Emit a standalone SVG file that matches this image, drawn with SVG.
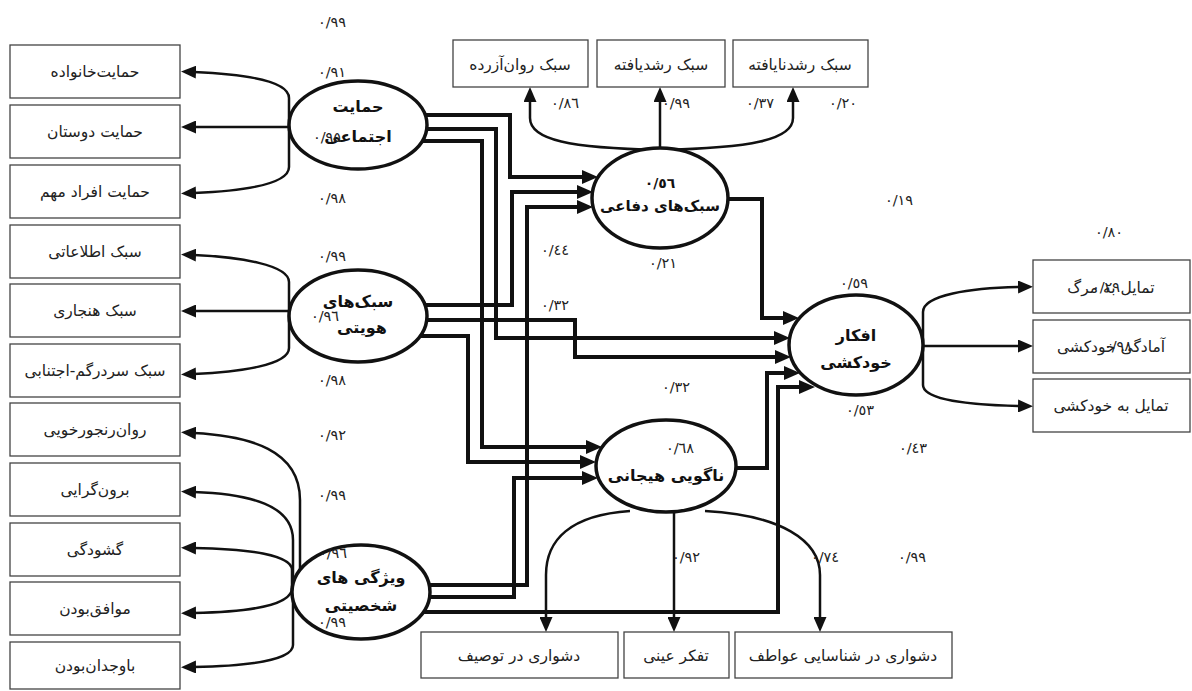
<svg xmlns="http://www.w3.org/2000/svg" width="1192" height="691" viewBox="0 0 1192 691">
<style>
.box{fill:#fff;stroke:#444;stroke-width:1.3}
.ell{fill:#fff;stroke:#111;stroke-width:3.5}
.thick{fill:none;stroke:#111;stroke-width:4;marker-end:url(#th)}
.thin{fill:none;stroke:#111;stroke-width:2.5}
.arr{fill:none;stroke:#111;stroke-width:2.5;marker-end:url(#ah)}
.t{font-family:"DejaVu Sans",sans-serif;font-size:15.5px;fill:#222;text-anchor:middle}
.ti{font-family:"DejaVu Sans",sans-serif;font-size:16px;font-weight:bold;fill:#111;text-anchor:middle}
.n{font-family:"DejaVu Sans",sans-serif;font-size:14.5px;fill:#222;text-anchor:middle}
</style>
<defs>
<marker id="th" markerUnits="userSpaceOnUse" markerWidth="16" markerHeight="14" refX="2" refY="7" orient="auto"><path d="M0,0 L16,7 L0,14 z" fill="#111"/></marker>
<marker id="ah" markerUnits="userSpaceOnUse" markerWidth="15" markerHeight="13" refX="2" refY="6.5" orient="auto"><path d="M0,0 L15,6.5 L0,13 z" fill="#111"/></marker>
</defs>
<rect width="1192" height="691" fill="#fff"/>

<g id="connectors">
<path class="arr" d="M289 130 L289 98 C289 80 240 74 194 72"/>
<path class="arr" d="M289 127 L194 127"/>
<path class="arr" d="M289 130 L289 167 C289 185 240 191 194 193"/>
<path class="arr" d="M289 320 L289 282 C289 265 240 257 194 255"/>
<path class="arr" d="M289 311 L194 311"/>
<path class="arr" d="M289 320 L289 348 C289 365 240 372 194 374"/>
<path class="arr" d="M300 575 L300 500 C300 450 250 436 194 433"/>
<path class="arr" d="M293 580 L293 540 C293 505 250 494 194 492"/>
<path class="arr" d="M292 590 L292 570 C292 555 250 549 194 548"/>
<path class="arr" d="M292 588 C292 605 250 612 194 613"/>
<path class="arr" d="M293 600 L293 645 C293 660 250 666 194 667"/>
<path class="arr" d="M660 150 C570 148 530 140 530 118 L530 100"/>
<path class="arr" d="M660 150 L660 100"/>
<path class="arr" d="M660 150 C750 148 793 140 793 118 L793 100"/>
<path class="arr" d="M923 345 L923 312 C923 295 970 288 1020 287"/>
<path class="arr" d="M923 346 L1020 346"/>
<path class="arr" d="M923 345 L923 385 C923 400 970 405 1020 406"/>
<path class="arr" d="M630 511 C570 515 546 540 546 575 L546 619"/>
<path class="arr" d="M674 512 L674 619"/>
<path class="arr" d="M705 511 C780 515 820 540 820 575 L820 619"/>
<path class="thick" d="M400 115 L510 115 L510 177 L584 177"/>
<path class="thick" d="M400 129 L496 129 L496 338 L776 338"/>
<path class="thick" d="M400 141 L482 141 L482 447 L588 447"/>
<path class="thick" d="M400 305 L512 305 L512 192 L579 192"/>
<path class="thick" d="M400 320 L575 320 L575 357 L777 357"/>
<path class="thick" d="M400 336 L468 336 L468 462 L582 462"/>
<path class="thick" d="M400 585 L527 585 L527 207 L579 207"/>
<path class="thick" d="M400 597 L514 597 L514 478 L584 478"/>
<path class="thick" d="M400 612 L778 612 L778 387 L801 387"/>
<path class="thick" d="M700 199 L762 199 L762 318 L785 318"/>
<path class="thick" d="M700 468 L767 468 L767 373 L786 373"/>
</g>

<g id="b1"><rect class="box" x="10" y="45" width="170" height="53"/><text class="t" x="95" y="77" direction="rtl">حمایت‌خانواده</text></g>
<g id="b2"><rect class="box" x="10" y="105" width="170" height="53"/><text class="t" x="95" y="137" direction="rtl">حمایت دوستان</text></g>
<g id="b3"><rect class="box" x="10" y="165" width="170" height="53"/><text class="t" x="95" y="197" direction="rtl">حمایت افراد مهم</text></g>
<g id="b4"><rect class="box" x="10" y="225" width="170" height="53"/><text class="t" x="95" y="257" direction="rtl">سبک اطلاعاتی</text></g>
<g id="b5"><rect class="box" x="10" y="284" width="170" height="53"/><text class="t" x="95" y="316" direction="rtl">سبک هنجاری</text></g>
<g id="b6"><rect class="box" x="10" y="344" width="170" height="53"/><text class="t" x="95" y="376" direction="rtl">سبک سردرگم-اجتنابی</text></g>
<g id="b7"><rect class="box" x="10" y="403" width="170" height="53"/><text class="t" x="95" y="435" direction="rtl">روان‌رنجورخویی</text></g>
<g id="b8"><rect class="box" x="10" y="463" width="170" height="53"/><text class="t" x="95" y="495" direction="rtl">برون‌گرایی</text></g>
<g id="b9"><rect class="box" x="10" y="523" width="170" height="53"/><text class="t" x="95" y="555" direction="rtl">گشودگی</text></g>
<g id="b10"><rect class="box" x="10" y="582" width="170" height="53"/><text class="t" x="95" y="614" direction="rtl">موافق‌بودن</text></g>
<g id="b11"><rect class="box" x="10" y="642" width="170" height="47"/><text class="t" x="95" y="671" direction="rtl">باوجدان‌بودن</text></g>

<g id="t1"><rect class="box" x="453" y="40" width="135" height="47"/><text class="t" x="520" y="70" direction="rtl">سبک روان‌آزرده</text></g>
<g id="t2"><rect class="box" x="597" y="40" width="128" height="47"/><text class="t" x="661" y="70" direction="rtl">سبک رشدیافته</text></g>
<g id="t3"><rect class="box" x="733" y="40" width="135" height="47"/><text class="t" x="800" y="70" direction="rtl">سبک رشدنایافته</text></g>

<g id="r1"><rect class="box" x="1033" y="260" width="157" height="53"/><text class="t" x="1111" y="293" direction="rtl">تمایل به مرگ</text></g>
<g id="r2"><rect class="box" x="1033" y="320" width="157" height="53"/><text class="t" x="1111" y="352" direction="rtl">آمادگی خودکشی</text></g>
<g id="r3"><rect class="box" x="1033" y="379" width="157" height="53"/><text class="t" x="1111" y="411" direction="rtl">تمایل به خودکشی</text></g>

<g id="d1"><rect class="box" x="421" y="632" width="197" height="46"/><text class="t" x="519" y="661" direction="rtl">دشواری در توصیف</text></g>
<g id="d2"><rect class="box" x="624" y="632" width="105" height="46"/><text class="t" x="676" y="661" direction="rtl">تفکر عینی</text></g>
<g id="d3"><rect class="box" x="735" y="632" width="217" height="46"/><text class="t" x="843" y="661" direction="rtl">دشواری در شناسایی عواطف</text></g>

<g id="e1"><ellipse class="ell" cx="358" cy="125" rx="69" ry="44"/><text class="ti" x="358" y="112" direction="rtl">حمایت</text><text class="ti" x="358" y="142" direction="rtl">اجتماعی</text></g>
<g id="e2"><ellipse class="ell" cx="358" cy="316" rx="69" ry="46"/><text class="ti" x="358" y="307" direction="rtl">سبک‌های</text><text class="ti" x="362" y="333" direction="rtl">هویتی</text></g>
<g id="e3"><ellipse class="ell" cx="361" cy="592" rx="69" ry="47"/><text class="ti" x="361" y="583" direction="rtl">ویژگی های</text><text class="ti" x="361" y="611" direction="rtl">شخصیتی</text></g>
<g id="e4"><ellipse class="ell" cx="660" cy="198" rx="68" ry="50"/><text class="ti" x="660" y="211" direction="rtl" style="font-size:15px">سبک‌های دفاعی</text></g>
<g id="e5"><ellipse class="ell" cx="856" cy="345" rx="67" ry="50"/><text class="ti" x="856" y="341" direction="rtl">افکار</text><text class="ti" x="856" y="368" direction="rtl">خودکشی</text></g>
<g id="e6"><ellipse class="ell" cx="666" cy="466" rx="70" ry="46"/><text class="ti" x="666" y="481" direction="rtl">ناگویی هیجانی</text></g>

<g id="labels">
<text class="n" x="332" y="27">٠/٩٩</text>
<text class="n" x="332" y="77">٠/٩١</text>
<text class="n" x="327" y="142">٠/٩٥</text>
<text class="n" x="332" y="203">٠/٩٨</text>
<text class="n" x="332" y="261">٠/٩٩</text>
<text class="n" x="325" y="321">٠/٩٦</text>
<text class="n" x="332" y="385">٠/٩٨</text>
<text class="n" x="332" y="440">٠/٩٢</text>
<text class="n" x="332" y="500">٠/٩٩</text>
<text class="n" x="333" y="558">٠/٩٦</text>
<text class="n" x="332" y="627">٠/٩٩</text>
<text class="n" x="565" y="108">٠/٨٦</text>
<text class="n" x="676" y="108">٠/٩٩</text>
<text class="n" x="760" y="108">٠/٣٧</text>
<text class="n" x="843" y="108">٠/٢٠</text>
<text class="ti" x="660" y="188" style="font-size:14px">٠/٥٦</text>
<text class="n" x="555" y="255">٠/٤٤</text>
<text class="n" x="663" y="268">٠/٢١</text>
<text class="n" x="555" y="310">٠/٣٢</text>
<text class="n" x="899" y="205">٠/١٩</text>
<text class="n" x="1109" y="237">٠/٨٠</text>
<text class="n" x="854" y="288">٠/٥٩</text>
<text class="n" x="860" y="415">٠/٥٣</text>
<text class="n" x="676" y="392">٠/٣٢</text>
<text class="n" x="913" y="453">٠/٤٣</text>
<text class="n" x="680" y="453">٠/٦٨</text>
<text class="n" x="686" y="562">٠/٩٢</text>
<text class="n" x="825" y="562">٠/٧٤</text>
<text class="n" x="912" y="562">٠/٩٩</text>
<text class="n" x="1106" y="292">٠/٢٩</text>
<text class="n" x="1118" y="351">٠/٩٨</text>
</g>
</svg>
